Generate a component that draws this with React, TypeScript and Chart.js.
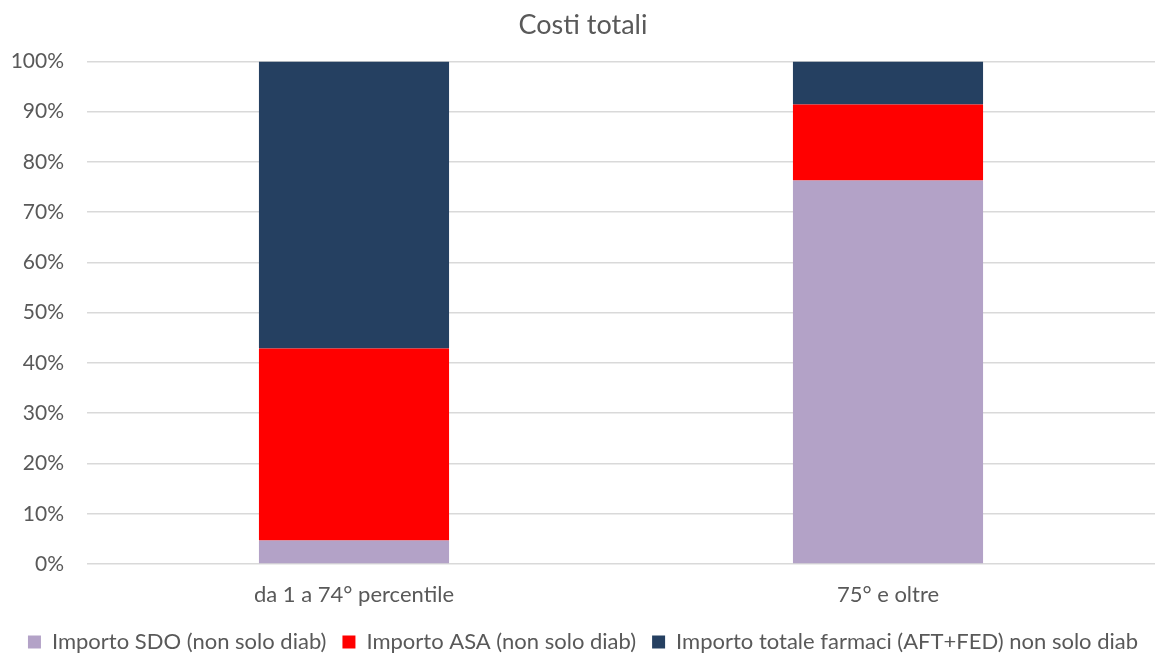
import React, { useEffect, useRef } from "react";
import { Chart, registerables } from "chart.js";

Chart.register(...registerables);

const categories = ["da 1 a 74° percentile", "75° e oltre"];
const seriesNames = [
  "Importo SDO (non solo diab)",
  "Importo ASA (non solo diab)",
  "Importo totale farmaci (AFT+FED) non solo diab",
];
const sdoValues = [4.7, 76.3];
const asaValues = [38.2, 15.1];
const farmaciValues = [57.1, 8.6];
const seriesColors = ["#B3A2C7", "#FF0000", "#254061"];
const yTicks = [0, 10, 20, 30, 40, 50, 60, 70, 80, 90, 100];

const FONT = "Lato, 'Open Sans', sans-serif";
const TEXT = "#595959";

export default function App() {
  const ref = useRef<HTMLCanvasElement | null>(null);
  useEffect(() => {
    document.body.style.margin = "0";
    const ctx = ref.current!;
    const chart = new Chart(ctx, {
      type: "bar",
      data: {
        labels: categories,
        datasets: [sdoValues, asaValues, farmaciValues].map((d, i) => ({
          label: seriesNames[i],
          data: d,
          backgroundColor: seriesColors[i],
          borderWidth: 0,
          categoryPercentage: 1,
          barPercentage: 0.356,
        })),
      },
      options: {
        animation: false,
        responsive: false,
        maintainAspectRatio: false,
        layout: { padding: { left: 11, right: 8, top: 0, bottom: -10 } },
        plugins: {
          title: {
            display: true,
            text: "Costi totali",
            color: TEXT,
            font: { family: FONT, size: 27, weight: "normal" },
            padding: { top: 9, bottom: 20 },
          },
          legend: {
            position: "bottom",
            labels: {
              color: TEXT,
              font: { family: FONT, size: 22 },
              boxWidth: 13,
              boxHeight: 13,
              padding: 16,
            },
          },
          tooltip: { enabled: false },
        },
        scales: {
          x: {
            stacked: true,
            grid: { display: false, drawTicks: false },
            border: { display: false },
            afterFit: (s: any) => {
              s.height = 51;
            },
            ticks: {
              color: TEXT,
              font: { family: FONT, size: 22 },
              padding: 18,
            },
          },
          y: {
            stacked: true,
            min: 0,
            max: 100,
            afterFit: (s: any) => {
              s.width = 76;
            },
            afterBuildTicks: (s: any) => {
              s.ticks = yTicks.map((v) => ({ value: v }));
            },
            grid: { color: "#D9D9D9", lineWidth: 1.5, drawTicks: false },
            border: { display: false },
            ticks: {
              color: TEXT,
              font: { family: FONT, size: 21 },
              padding: 23,
              callback: (v: any) => v + "%",
            },
          },
        },
      },
    });
    return () => chart.destroy();
  }, []);
  return (
    <div style={{ position: "absolute", left: 0, top: 0, width: 1163, height: 653 }}>
      <canvas ref={ref} width={1163} height={653} />
    </div>
  );
}
